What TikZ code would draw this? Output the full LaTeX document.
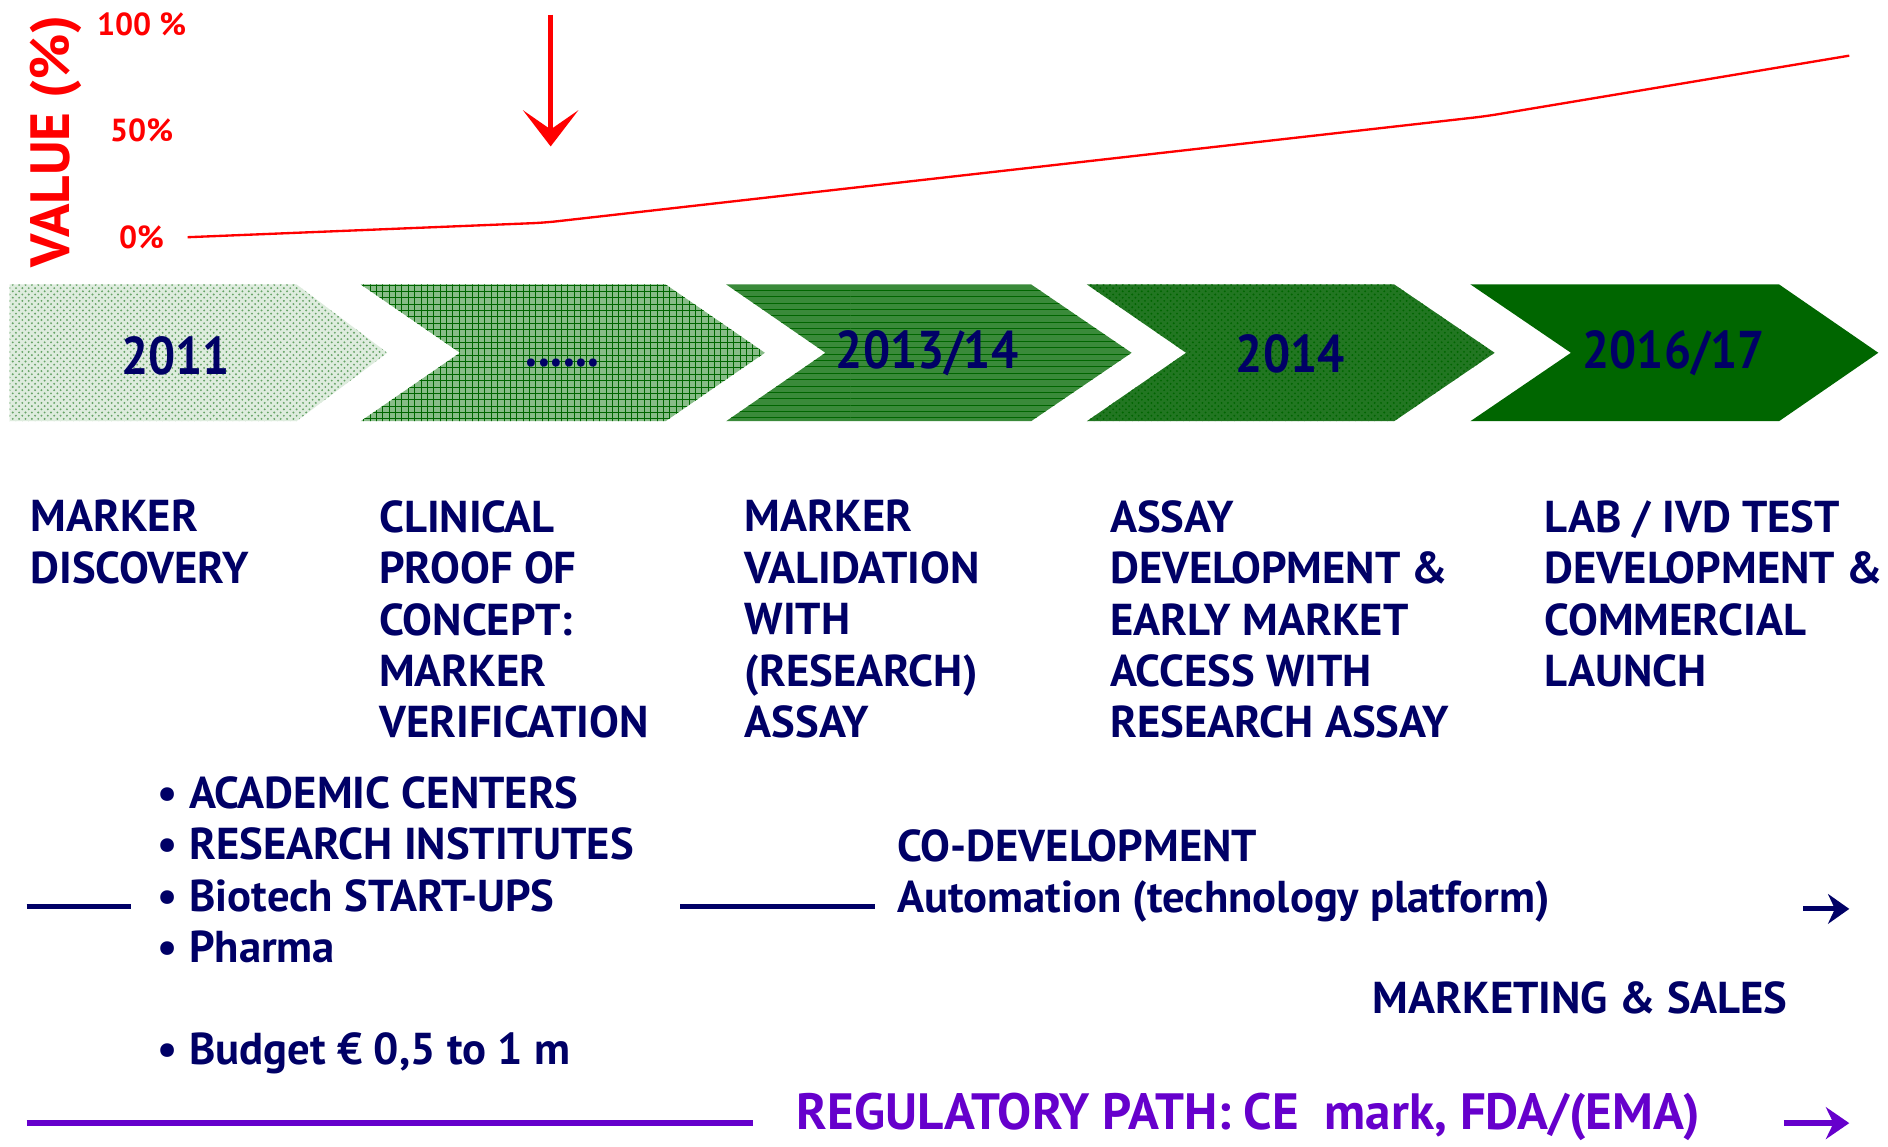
\documentclass[tikz,border=0pt]{standalone}
\usepackage{fontspec}
\setmainfont{PT Sans}
\newfontfamily\yearfont{PT Sans}[FakeStretch=0.9]
\usepackage{tikz}
\usetikzlibrary{arrows.meta,patterns}
\definecolor{navy}{RGB}{0,0,102}
\definecolor{regpurple}{RGB}{102,0,204}
\definecolor{darkgreen}{RGB}{0,102,0}
\definecolor{palegreen}{RGB}{222,236,222}
\definecolor{midgreen}{RGB}{136,188,136}
\definecolor{deepgreen}{RGB}{58,138,58}
\definecolor{densegreen}{RGB}{34,118,34}

\tikzset{
  stage/.style={anchor=north west, align=left, inner sep=0pt, text=navy,
    font=\bfseries\fontsize{21}{24.2}\selectfont},
  yeartag/.style={inner sep=0pt, text=navy, font=\yearfont\bfseries\fontsize{25}{30}\selectfont},
  pct/.style={inner sep=0pt, text=red, font=\bfseries\fontsize{15}{18}\selectfont},
  devline/.style={navy, line width=2.3pt},
  regline/.style={regpurple, line width=2.8pt}
}

\begin{document}
\begin{tikzpicture}[x=0.02cm,y=-0.02cm]
\useasboundingbox[fill=white] (0,0) rectangle (1560,947);

% value axis and curve
\node[pct, rotate=90, font=\bfseries\fontsize{26}{30}\selectfont] (vtitle) at (46,117) {VALUE (\%)};
\node[pct] (p100) at (117,20) {100 \%};
\node[pct] (p50) at (117,108) {50\%};
\node[pct] (p0) at (117,196) {0\%};
\coordinate (v0) at (155,196);
\coordinate (v1) at (450,184);
\coordinate (v2) at (1228,96);
\coordinate (v3) at (1528,46);
\draw[red, line width=1.1pt, rounded corners=6pt] (v0) -- (v1) -- (v2) -- (v3);
\coordinate (mark top) at (455,12);
\coordinate (mark tip) at (455,121);
\draw[red, line width=2.3pt, -{Stealth[length=17pt,width=26pt,inset=9pt]}] (mark top) -- (mark tip);

% time line
\fill[preaction={fill=palegreen}, pattern=crosshatch dots, pattern color=darkgreen!60]
  (8,235) -- (245,235) -- (320,291.5) -- (245,348) -- (8,348) -- cycle;
\fill[preaction={fill=midgreen}, pattern=grid, pattern color=darkgreen]
  (298,235) -- (550,235) -- (632,291.5) -- (550,348) -- (298,348) -- (380,291.5) -- cycle;
\fill[preaction={fill=deepgreen}, pattern=horizontal lines, pattern color=darkgreen]
  (600,235) -- (852,235) -- (935,291.5) -- (852,348) -- (600,348) -- (682,291.5) -- cycle;
\fill[preaction={fill=densegreen}, pattern=crosshatch dots, pattern color=darkgreen]
  (898,235) -- (1152,235) -- (1235,291.5) -- (1152,348) -- (898,348) -- (980,291.5) -- cycle;
\fill[darkgreen]
  (1215,235) -- (1470,235) -- (1552,291.5) -- (1470,348) -- (1215,348) -- (1298,291.5) -- cycle;
\node[yeartag] (y2011) at (145,294) {2011};
\node[yeartag, anchor=base] (ydots) at (465,303) {......};
\node[yeartag] (y2013) at (766,292) {2013/14};
\node[yeartag] (y2014) at (1066,292) {2014};
\node[yeartag] (y2016) at (1383,292) {2016/17};

% stages
\node[stage] (discovery) at (25,413) {MARKER\\DISCOVERY};
\node[stage] (proof) at (313,413) {CLINICAL\\PROOF OF\\CONCEPT:\\MARKER\\VERIFICATION};
\node[stage] (validation) at (615,413) {MARKER\\VALIDATION\\WITH\\(RESEARCH)\\ASSAY};
\node[stage] (assaydev) at (917,413) {ASSAY\\DEVELOPMENT \&\\EARLY MARKET\\ACCESS WITH\\RESEARCH ASSAY};
\node[stage] (launch) at (1276,413) {LAB / IVD TEST\\DEVELOPMENT \&\\COMMERCIAL\\LAUNCH};

% partners
\node[stage] (actors) at (130,641) {\textbullet\ ACADEMIC CENTERS\\\textbullet\ RESEARCH INSTITUTES\\\textbullet\ Biotech START-UPS\\\textbullet\ Pharma};
\node[stage] (budget) at (130,853) {\textbullet\ Budget € 0,5 to 1 m};
\coordinate (dev0) at (22,749);
\coordinate (dev1) at (108,749);
\coordinate (dev2) at (562,749);
\coordinate (dev3) at (723,749);
\coordinate (dev4) at (1490,751);
\coordinate (dev5) at (1528,751);
\draw[devline] (dev0) -- (dev1);
\draw[devline] (dev2) -- (dev3);
\node[stage] (codev) at (741,685) {CO-DEVELOPMENT\\Automation (technology platform)};
\draw[devline, -{Stealth[length=10pt,width=14pt]}] (dev4) -- (dev5);
\node[stage] (sales) at (1134,811) {MARKETING \& SALES};

% regulatory
\coordinate (reg0) at (22,928);
\coordinate (reg1) at (622,928);
\coordinate (reg2) at (1474,928);
\coordinate (reg3) at (1528,928);
\draw[regline] (reg0) -- (reg1);
\node[stage, text=regpurple, font=\bfseries\fontsize{24}{28}\selectfont] (regpath) at (658,903) {REGULATORY PATH: CE~~mark, FDA/(EMA)};
\draw[regline, -{Stealth[length=11pt,width=15pt]}] (reg2) -- (reg3);
\end{tikzpicture}
\end{document}
